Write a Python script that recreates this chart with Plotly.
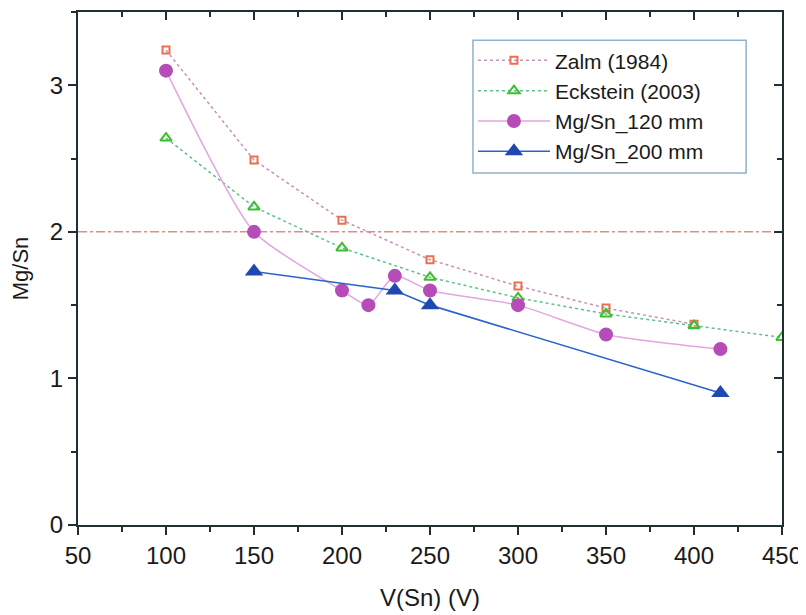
import plotly.graph_objects as go

zalm_x = [100, 150, 200, 250, 300, 350, 400]
zalm_y = [3.24, 2.49, 2.08, 1.81, 1.63, 1.48, 1.37]

eck_x = [100, 150, 200, 250, 300, 350, 400, 450]
eck_y = [2.64, 2.17, 1.89, 1.69, 1.55, 1.44, 1.36, 1.28]

mg120_x = [100, 150, 200, 215, 230, 250, 300, 350, 415]
mg120_y = [3.1, 2.0, 1.6, 1.5, 1.7, 1.6, 1.5, 1.3, 1.2]

mg200_x = [150, 230, 250, 415]
mg200_y = [1.73, 1.6, 1.5, 0.9]

ref_level = 2.0
x_range = [50, 450]
y_range = [0, 3.5]
x_ticks = [50, 100, 150, 200, 250, 300, 350, 400, 450]
y_ticks = [0, 1, 2, 3]

FONT = "Liberation Sans, Arial, sans-serif"
AX = "#1f2f33"

fig = go.Figure()

fig.add_trace(go.Scatter(x=x_range, y=[ref_level, ref_level], mode="lines",
                         line=dict(color="#e58a8a", width=1.5, dash="dashdot"),
                         showlegend=False, hoverinfo="skip"))

fig.add_trace(go.Scatter(x=zalm_x, y=zalm_y, mode="lines+markers", name="Zalm (1984)",
                         line=dict(color="#c98fb8", width=1.5, dash="dot"),
                         marker=dict(symbol="square-open", size=7, color="#e8704f",
                                     line=dict(width=2, color="#e8704f"))))
fig.add_trace(go.Scatter(x=eck_x, y=eck_y, mode="lines+markers", name="Eckstein (2003)",
                         line=dict(color="#5cc08a", width=1.5, dash="dot"),
                         marker=dict(symbol="triangle-up-open", size=10, color="#3cbf2c",
                                     line=dict(width=2, color="#3cbf2c"))))
fig.add_trace(go.Scatter(x=mg120_x, y=mg120_y, mode="lines+markers", name="Mg/Sn_120 mm",
                         line=dict(color="#e2a6e0", width=1.5, shape="spline", smoothing=0.6),
                         marker=dict(symbol="circle", size=14, color="#b54cb8")))
fig.add_trace(go.Scatter(x=mg200_x, y=mg200_y, mode="lines+markers", name="Mg/Sn_200 mm",
                         line=dict(color="#2a64c8", width=1.6),
                         marker=dict(symbol="triangle-up", size=16, color="#1f48b0")))

fig.add_trace(go.Scatter(x=[None], y=[None], xaxis="x2", yaxis="y2", showlegend=False))

common = dict(showgrid=False, zeroline=False, showline=True, linecolor=AX, linewidth=2,
              ticklen=8, tickwidth=2, tickcolor=AX, automargin=False)

# legend frame (wider than plotly's auto-sized box)
fig.add_shape(type="rect", xref="paper", yref="paper",
              x0=0.561, x1=0.949, y0=0.686, y1=0.945,
              line=dict(color="#8fb3cc", width=1.5), fillcolor="white", layer="above")

fig.update_layout(
    width=798, height=607,
    margin=dict(l=70, r=24, t=4, b=90),
    paper_bgcolor="white", plot_bgcolor="white",
    font=dict(family=FONT, color="#1a1a1a", size=22),
    showlegend=True,
    legend=dict(x=0.561, y=0.945, xanchor="left", yanchor="top",
                bgcolor="rgba(0,0,0,0)", borderwidth=0,
                font=dict(size=21, family=FONT), tracegroupgap=0, itemwidth=72),
    xaxis=dict(range=x_range, tickvals=x_ticks, ticks="outside",
               minor=dict(dtick=25, tick0=50, ticks="outside", ticklen=5, tickwidth=2, tickcolor=AX),
               tickfont=dict(size=24), title=dict(text="V(Sn) (V)", font=dict(size=24), standoff=21),
               **common),
    yaxis=dict(range=y_range, tickvals=y_ticks, ticks="outside",
               minor=dict(dtick=0.5, tick0=0, ticks="outside", ticklen=5, tickwidth=2, tickcolor=AX),
               tickfont=dict(size=24), title=dict(text="Mg/Sn", font=dict(size=22), standoff=16),
               **common),
    xaxis2=dict(range=x_range, overlaying="x", side="top", showticklabels=False,
                tickvals=x_ticks, ticks="inside",
                minor=dict(dtick=25, tick0=50, ticks="inside", ticklen=5, tickwidth=2, tickcolor=AX),
                **common),
    yaxis2=dict(range=y_range, overlaying="y", side="right", showticklabels=False,
                tickvals=y_ticks, ticks="inside",
                minor=dict(dtick=0.5, tick0=0, ticks="inside", ticklen=5, tickwidth=2, tickcolor=AX),
                **common),
)

fig.write_html("out.html")
